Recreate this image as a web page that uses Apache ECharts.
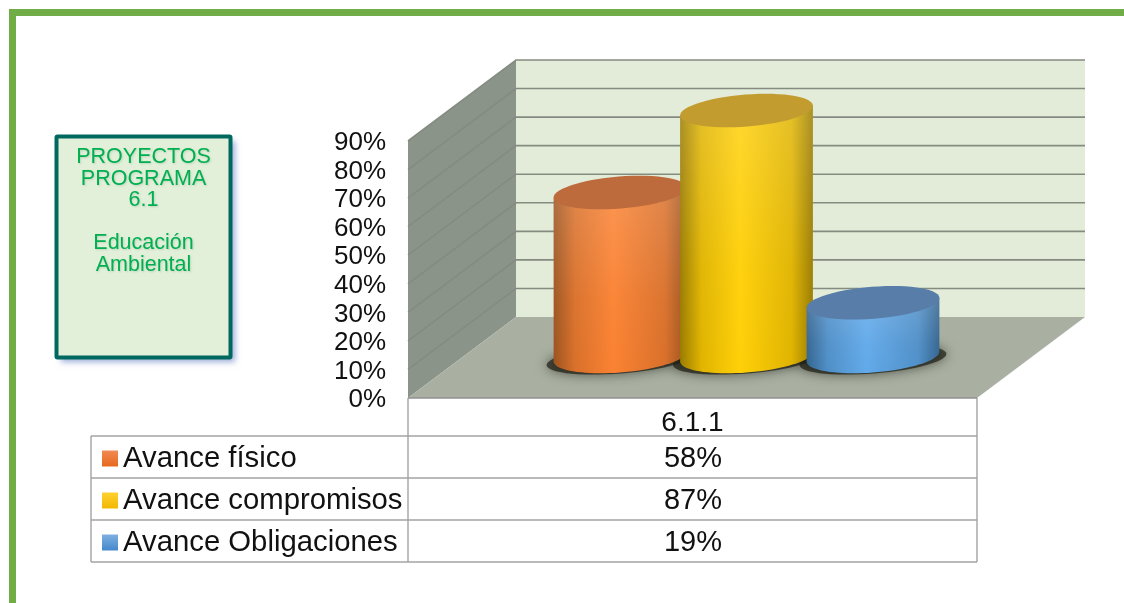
<!DOCTYPE html>
<html>
<head>
<meta charset="utf-8">
<style>html,body{margin:0;padding:0;background:#fff}#c{width:1124px;height:603px}</style>
<script src="https://cdn.jsdelivr.net/npm/echarts@6/dist/echarts.min.js"></script>
</head>
<body>
<div id="c"></div>
<script>
var categories = ['6.1.1'];
var seriesNames = ['Avance físico', 'Avance compromisos', 'Avance Obligaciones'];
var seriesValues = [58, 87, 19];
var sideEdge = ['#9c5420', '#9a7c00', '#34648f'];
var sideShoulder = ['#d9702a', '#e0b400', '#4f8fc8'];
var sideMid = ['#fb8232', '#ffd008', '#62aaea'];
var topColors = ['#bd6a3c', '#c39c30', '#587da8'];
var swatchTop = ['#f08a55', '#ffd030', '#7fb0e0'];
var swatchBottom = ['#e8681e', '#f2b800', '#4488cc'];
var boxLines = ['PROYECTOS', 'PROGRAMA', '6.1', '', 'Educación', 'Ambiental'];

var DX = 108, DY = 81;                 // oblique depth of the 3D box
var G = { left: 408, top: 141, width: 569, height: 257 };
var FONT = '"Liberation Sans", Arial, sans-serif';
var LG = echarts.graphic.LinearGradient;

function pts(cx, cy, rx, ry, phi, t0, t1, n) {
  var out = [], c = Math.cos(phi), s = Math.sin(phi);
  for (var i = 0; i <= n; i++) {
    var t = n ? t0 + (t1 - t0) * i / n : t0;
    var a = rx * Math.cos(t), b = ry * Math.sin(t);
    out.push([cx + a * c - b * s, cy + a * s + b * c]);
  }
  return out;
}

function renderBox(params, api) {
  var cs = params.coordSys;
  var x0 = cs.x, x1 = cs.x + cs.width, yb = cs.y + cs.height, yt = cs.y;
  var lineCol = '#858b80';
  var kids = [
    { type: 'polygon', shape: { points: [[x0 + DX, yb - DY], [x1 + DX, yb - DY], [x1 + DX, yt - DY], [x0 + DX, yt - DY]] }, style: { fill: '#e2ecd9' } },
    { type: 'polygon', shape: { points: [[x0, yb], [x0 + DX, yb - DY], [x0 + DX, yt - DY], [x0, yt]] }, style: { fill: '#8b9488' } },
    { type: 'polygon', shape: { points: [[x0, yb], [x1, yb], [x1 + DX, yb - DY], [x0 + DX, yb - DY]] }, style: { fill: '#a9b0a2' } }
  ];
  for (var v = 10; v <= 90; v += 10) {
    var y = api.coord([categories[0], v])[1];
    kids.push({ type: 'polyline', shape: { points: [[x0, y], [x0 + DX, y - DY], [x1 + DX, y - DY]] },
      style: { stroke: lineCol, lineWidth: 1.6, fill: null } });
  }
  kids.push({ type: 'line', shape: { x1: x0, y1: yb, x2: x1, y2: yb }, style: { stroke: '#909090', lineWidth: 1.5 } });
  return { type: 'group', children: kids };
}

function geom(i, api) {
  var bw = api.size([1, 0])[0];
  var base = api.coord([categories[0], 0]);
  var h = api.size([0, seriesValues[i]])[1] * 0.99;
  return {
    cx: base[0] + DX / 2 + (i - 1) * bw * 0.2223,
    cy: base[1] - DY / 2 - 1,
    h: h,
    rx: bw * 0.117,
    ry: 16,
    phi: -4.5 * Math.PI / 180
  };
}

function renderShadow(i) {
  return function (params, api) {
    var g = geom(i, api);
    return { type: 'polygon',
      shape: { points: pts(g.cx, g.cy + 3, g.rx + 7, g.ry - 2, g.phi, 0, Math.PI * 2, 60) },
      style: { fill: 'rgba(30,30,20,0.7)', shadowBlur: 12, shadowColor: 'rgba(30,30,20,0.9)' } };
  };
}

function renderCyl(i) {
  return function (params, api) {
    var g = geom(i, api);
    var t0 = Math.atan2(-g.ry * Math.sin(g.phi), g.rx * Math.cos(g.phi));
    var bottom = pts(g.cx, g.cy, g.rx, g.ry, g.phi, t0, t0 + Math.PI, 40);
    var topY = g.cy - g.h;
    var tl = pts(g.cx, topY, g.rx, g.ry, g.phi, t0 + Math.PI, t0 + Math.PI, 0)[0];
    var tr = pts(g.cx, topY, g.rx, g.ry, g.phi, t0, t0, 0)[0];
    var side = bottom.concat([tl, tr]);
    var kids = [
      { type: 'polygon', shape: { points: side }, style: {
        fill: new LG(0, 0, 1, 0, [
          { offset: 0, color: sideEdge[i] }, { offset: 0.16, color: sideShoulder[i] },
          { offset: 0.45, color: sideMid[i] }, { offset: 0.84, color: sideShoulder[i] },
          { offset: 1, color: sideEdge[i] }]) } },
      { type: 'polygon', shape: { points: side }, style: {
        fill: new LG(0, 0, 0, 1, [
          { offset: 0, color: 'rgba(255,255,255,0.16)' }, { offset: 0.6, color: 'rgba(255,255,255,0.03)' },
          { offset: 1, color: 'rgba(255,255,255,0)' }]) } },
      { type: 'polygon', shape: { points: pts(g.cx, topY, g.rx, g.ry, g.phi, 0, Math.PI * 2, 60) },
        style: { fill: topColors[i] } }
    ];
    return { type: 'group', children: kids };
  };
}

var series = [{
  type: 'custom', name: 'box', z: 1, silent: true, renderItem: renderBox,
  data: [[categories[0], 0]], encode: { x: 0, y: 1 }
}];
seriesNames.forEach(function (n, i) {
  series.push({ type: 'custom', name: n + ' sombra', z: 2, silent: true, renderItem: renderShadow(i),
    data: [[categories[0], seriesValues[i]]], encode: { x: 0, y: 1 } });
});
seriesNames.forEach(function (n, i) {
  series.push({ type: 'custom', name: n, z: 3 + i, silent: true, renderItem: renderCyl(i),
    itemStyle: { color: sideMid[i] },
    data: [[categories[0], seriesValues[i]]], encode: { x: 0, y: 1 } });
});

// Frame, title box and the data table
var tblCol = '#a3a3a3';
var rowTop = 436, rowH = 42, tblL = 91, colX = G.left, tblR = G.left + G.width;
var gfx = [
  { type: 'rect', shape: { x: 9, y: 9, width: 1115, height: 7 }, style: { fill: '#70ad47' } },
  { type: 'rect', shape: { x: 9, y: 9, width: 7, height: 594 }, style: { fill: '#70ad47' } },
  { type: 'rect', shape: { x: 58, y: 138, width: 174, height: 221 },
    style: { fill: '#ffffff', shadowBlur: 6, shadowOffsetX: 3, shadowOffsetY: 3, shadowColor: 'rgba(90,120,190,0.6)' } },
  { type: 'rect', shape: { x: 56.5, y: 136.5, width: 174, height: 221, r: 1 },
    style: { fill: '#e2efd9', stroke: '#00685f', lineWidth: 4 } }
];
boxLines.forEach(function (t, i) {
  if (!t) return;
  gfx.push({ type: 'text', x: 143.5, y: 157 + i * 21.6, style: {
    text: t, fill: '#00b050', font: '21.5px ' + FONT, align: 'center', verticalAlign: 'middle',
    textShadowColor: 'rgba(60,110,90,0.2)', textShadowBlur: 2, textShadowOffsetX: 1, textShadowOffsetY: 1 } });
});
function tline(x1, y1, x2, y2) {
  gfx.push({ type: 'line', shape: { x1: x1, y1: y1, x2: x2, y2: y2 }, style: { stroke: tblCol, lineWidth: 1.4 } });
}
seriesNames.forEach(function (n, i) {
  tline(tblL, rowTop + i * rowH, tblR, rowTop + i * rowH);
  gfx.push({ type: 'text', x: (colX + tblR) / 2 + 0.5, y: rowTop + i * rowH + rowH / 2 + 2, style: {
    text: seriesValues[i] + '%', fill: '#111', font: '29px ' + FONT, align: 'center', verticalAlign: 'middle' } });
});
tline(tblL, rowTop + 3 * rowH, tblR, rowTop + 3 * rowH);
tline(tblL, rowTop, tblL, rowTop + 3 * rowH);
tline(colX, G.top + G.height, colX, rowTop + 3 * rowH);
tline(tblR, G.top + G.height, tblR, rowTop + 3 * rowH);

var chart = echarts.init(document.getElementById('c'), null, { renderer: 'canvas' });
chart.setOption({
  animation: false,
  backgroundColor: '#ffffff',
  grid: { left: G.left, top: G.top, width: G.width, height: G.height, containLabel: false },
  xAxis: { type: 'category', data: categories, axisLine: { show: false }, axisTick: { show: false },
    axisLabel: { margin: 11, color: '#111', fontSize: 28, fontFamily: FONT } },
  yAxis: { type: 'value', min: 0, max: 90, interval: 10, splitLine: { show: false }, axisLine: { show: false }, axisTick: { show: false },
    axisLabel: { margin: 22, formatter: '{a|{value}%}',
      rich: { a: { color: '#111', fontSize: 26, fontFamily: FONT, lineHeight: 30, verticalAlign: 'bottom' } } } },
  legend: {
    orient: 'vertical', left: 102, top: 443, padding: 0, itemWidth: 16, itemHeight: 16, itemGap: 11, selectedMode: false,
    textStyle: { color: '#111', fontSize: 29.3, fontFamily: FONT, lineHeight: 31 },
    data: seriesNames.map(function (n, i) {
      return { name: n, icon: 'rect', itemStyle: { color: new LG(0, 0, 0, 1, [
        { offset: 0, color: swatchTop[i] }, { offset: 1, color: swatchBottom[i] }]) } };
    })
  },
  series: series,
  graphic: { elements: gfx }
});
</script>
</body>
</html>
